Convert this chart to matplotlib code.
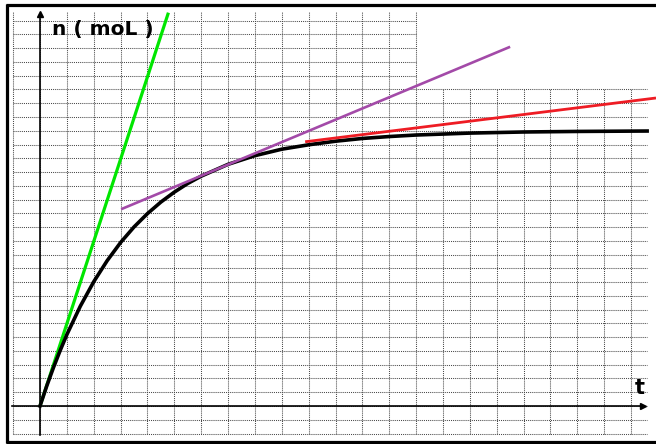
import numpy as np
import matplotlib
matplotlib.use("Agg")
import matplotlib.pyplot as plt
from matplotlib.lines import Line2D

# amount of matter n (in grid squares) against time t (in grid squares)
t_vals = [0, 0.25, 0.5, 0.75, 1, 1.5, 2, 2.5, 3, 3.5, 4, 4.5, 5, 5.5, 6,
          7, 8, 9, 10, 11, 12, 13, 14, 16, 18, 20, 22.6]
n_vals = [0, 1.45, 2.79, 4.03, 5.19, 7.25, 9.03, 10.56, 11.88, 13.01, 13.98,
          14.82, 15.54, 16.17, 16.70, 17.56, 18.19, 18.66, 18.98, 19.24,
          19.44, 19.58, 19.69, 19.83, 19.91, 19.95, 19.98]

# tangents (end points)
green_t = [0, 4.78]
green_n = [0, 28.58]
purple_t = [3.02, 17.5]
purple_n = [14.3, 26.1]
red_t = [9.87, 22.93]
red_n = [19.2, 22.38]

W, H = 656, 444
fig = plt.figure(figsize=(W / 100, H / 100), dpi=100)
ax = fig.add_axes([0, 0, 1, 1])
ax.set_xlim(-1.489, 22.93)
ax.set_ylim(-2.76, 29.5)
ax.axis('off')

# squared paper
grid_kw = dict(color='#4a4a4a', lw=0.75, ls=(0, (1, 1)), zorder=1)
for r in range(-2, 29):
    x_end = 22.6 if r <= 23 else 14
    ax.plot([-1, x_end], [r, r], **grid_kw)
for c in range(-1, 23):
    y_end = 28.6 if c <= 14 else 23
    ax.plot([c, c], [-2, y_end], **grid_kw)

# axes with arrows
ax.plot([0, 0], [-2.1, 28.4], color='black', lw=1.2, zorder=3)
ax.plot([0], [28.45], marker='^', color='black', ms=5, zorder=3)
ax.plot([-1.04, 22.4], [0, 0], color='black', lw=1.2, zorder=3)
ax.plot([22.45], [0], marker='>', color='black', ms=5, zorder=3)

# tangents and curve
ax.plot(green_t, green_n, color='#00e600', lw=2.3, solid_capstyle='butt', zorder=4)
ax.plot(t_vals, n_vals, color='black', lw=2.6, zorder=5)
ax.plot(purple_t, purple_n, color='#a34aa8', lw=1.9, solid_capstyle='butt', zorder=6)
ax.plot(red_t, red_n, color='#ee1c24', lw=2.0, solid_capstyle='butt', zorder=6)

# labels
fig.text(52 / W, 1 - 29 / H, 'n ( moL )', fontsize=14.5, fontweight='bold',
         ha='left', va='center')
fig.text(640 / W, 1 - 388 / H, 't', fontsize=15, fontweight='bold',
         ha='center', va='center')

# frame (open on the right)
fk = dict(color='black', lw=2.3, solid_capstyle='butt')
fig.add_artist(Line2D([7 / W, 7 / W], [1 - 4 / H, 1 - 443 / H], **fk))
fig.add_artist(Line2D([6 / W, 1], [1 - 5 / H, 1 - 5 / H], **fk))
fig.add_artist(Line2D([6 / W, 1], [1 - 441.5 / H, 1 - 441.5 / H], **fk))

fig.savefig('out.png', dpi=100)
